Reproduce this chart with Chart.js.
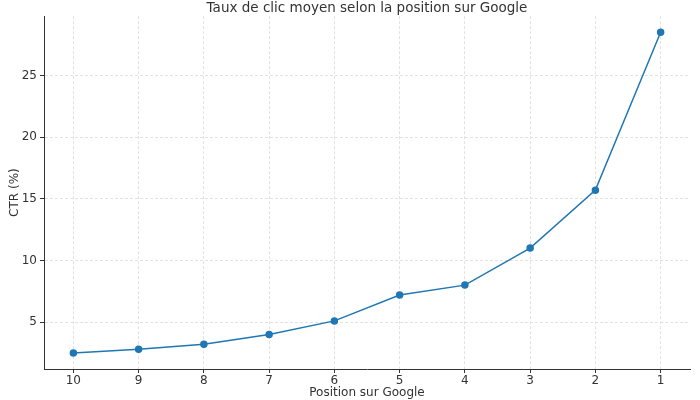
<!DOCTYPE html>
<html>
<head>
<meta charset="utf-8">
<script src="https://cdn.jsdelivr.net/npm/chart.js@4"></script>
<style>
  html, body { margin: 0; padding: 0; background: #fff; }
  #wrap { width: 700px; height: 400px; }
</style>
</head>
<body>
<div id="wrap"><canvas id="ctrChart"></canvas></div>
<script>
// Données
const positions = ['10', '9', '8', '7', '6', '5', '4', '3', '2', '1'];
const ctrValues = [2.5, 2.8, 3.2, 4.0, 5.1, 7.2, 8.0, 11.0, 15.7, 28.5];
const yTicks = [5, 10, 15, 20, 25];

const points = ctrValues.map((v, i) => ({ x: i, y: v }));

Chart.defaults.font.family = '"DejaVu Sans", sans-serif';
Chart.defaults.color = '#333';

// Centrer le titre sur la zone du graphique (comme matplotlib)
const centerTitle = {
    id: 'centerTitle',
    afterLayout(chart) {
        const t = chart.titleBlock;
        if (t) {
            t.left = chart.chartArea.left;
            t.right = chart.chartArea.right;
            t.width = t.right - t.left;
        }
    }
};

new Chart(document.getElementById('ctrChart'), {
    type: 'line',
    data: {
        datasets: [{
            data: points,
            borderColor: '#1f77b4',
            backgroundColor: '#1f77b4',
            borderWidth: 1.5,
            pointRadius: 3,
            pointHoverRadius: 3,
            tension: 0
        }]
    },
    plugins: [centerTitle],
    options: {
        responsive: true,
        maintainAspectRatio: false,
        animation: false,
        layout: { padding: { left: 0, right: 10, top: 0, bottom: 0 } },
        plugins: {
            legend: { display: false },
            tooltip: { enabled: false },
            title: {
                display: true,
                text: 'Taux de clic moyen selon la position sur Google',
                font: { size: 13.5, weight: 'normal' },
                color: '#333',
                padding: { top: 0, bottom: 0 }
            }
        },
        scales: {
            x: {
                type: 'linear',
                min: -0.45,
                max: positions.length - 1 + 0.45,
                afterBuildTicks: axis => {
                    axis.ticks = positions.map((p, i) => ({ value: i }));
                },
                afterFit: axis => { axis.height = 31; },
                ticks: {
                    callback: v => positions[v],
                    font: { size: 12 },
                    padding: 1,
                    maxRotation: 0
                },
                title: {
                    display: true,
                    text: 'Position sur Google',
                    font: { size: 12 },
                    padding: { top: 0, bottom: 0 }
                },
                grid: {
                    color: '#e2e2e2',
                    tickColor: '#333',
                    tickLength: 4,
                    tickBorderDash: []
                },
                border: { color: '#333', width: 1, dash: [3, 2] }
            },
            y: {
                min: 1.2,
                max: 29.8,
                afterBuildTicks: axis => {
                    axis.ticks = yTicks.map(v => ({ value: v }));
                },
                afterFit: axis => { axis.width = 44; },
                ticks: {
                    font: { size: 12 },
                    padding: 3
                },
                title: {
                    display: true,
                    text: 'CTR (%)',
                    font: { size: 12 },
                    padding: { top: 8, bottom: 0 }
                },
                grid: {
                    color: '#e2e2e2',
                    tickColor: '#333',
                    tickLength: 4,
                    tickBorderDash: []
                },
                border: { color: '#333', width: 1, dash: [3, 2] }
            }
        }
    }
});
</script>
</body>
</html>
